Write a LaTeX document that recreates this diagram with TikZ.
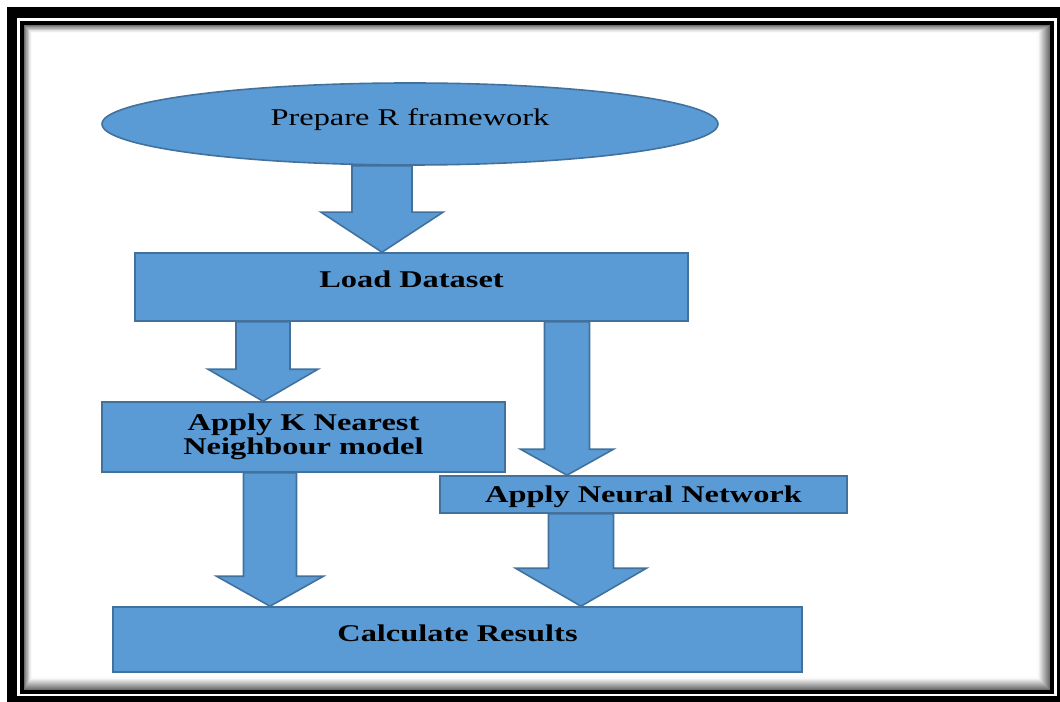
\documentclass[tikz,border=0pt]{standalone}
\usepackage{fontspec}
\setmainfont{Liberation Serif}[FakeStretch=1.35]
\usetikzlibrary{shapes.geometric,calc}

\definecolor{boxfill}{HTML}{5B9BD5}
\definecolor{boxline}{HTML}{41719C}

\tikzset{
  box/.style={draw=boxline, fill=boxfill, line width=1.2pt, inner sep=0pt, font=\fontsize{18}{18}\selectfont\bfseries},
  oval/.style={ellipse, draw=boxline, fill=boxfill, line width=1.2pt, inner sep=0pt, font=\fontsize{18}{18}\selectfont},
  barrow/.style={draw=boxline, fill=boxfill, line width=1.2pt, line join=miter},
}

% block arrow: from, to, shaft half width, head half width, head length (px)
\newcommand{\blockarrow}[5]{%
  \draw[barrow] let \p1=(#1), \p2=(#2) in
    (\x1-#3*0.75pt,\y1) -- (\x1-#3*0.75pt,\y2+#5*0.75pt) -- (\x1-#4*0.75pt,\y2+#5*0.75pt)
    -- (\x2,\y2) -- (\x1+#4*0.75pt,\y2+#5*0.75pt) -- (\x1+#3*0.75pt,\y2+#5*0.75pt)
    -- (\x1+#3*0.75pt,\y1) -- cycle;}

\begin{document}
\begin{tikzpicture}[x=0.75pt,y=-0.75pt]
\clip (0,0) rectangle (1060,702);

%Frame: outer band
\draw[line width=7.9pt] (12,12.5) rectangle (1062,701);
%Frame: inner line
\draw[line width=3pt] (22,23) rectangle (1052,691.5);
%Frame: shadow
\foreach \i [evaluate=\i as \c using int(62-5*\i)] in {1,...,12}
  \draw[line width=0.8pt, black!\c] (24+0.6*\i,25+0.6*\i) rectangle (1050-\i,690-\i);

%Shape: Ellipse
\node[oval, minimum width=462pt, minimum height=61.5pt, text height=12pt, text depth=9pt] (prep) at (410,124) {Prepare R framework};
%Shape: Rectangles
\node[box, minimum width=414.75pt, minimum height=51pt, text height=12pt, text depth=10.5pt] (load) at (411.5,287) {Load Dataset};
\node[box, minimum width=302.25pt, minimum height=52.5pt, align=center] (knn) at (303.5,437) {Apply K Nearest\\Neighbour model};
\node[box, minimum width=305.25pt, minimum height=27.75pt, text height=12pt, text depth=0pt] (nn) at (643.5,494.5) {Apply Neural Network};
\node[box, minimum width=516.75pt, minimum height=48.75pt, text height=12pt, text depth=9.75pt] (calc) at (457.5,639.5) {Calculate Results};

%Arrows
\coordinate (a1) at (382,0);
\coordinate (a2) at (263,0);
\coordinate (a3) at (567,0);
\coordinate (a4) at (270,0);
\coordinate (a5) at (581,0);
\blockarrow{prep.south -| a1}{load.north -| a1}{30}{61}{40}
\blockarrow{load.south -| a2}{knn.north -| a2}{27}{55}{32}
\blockarrow{load.south -| a3}{nn.north -| a3}{22.5}{46.5}{26}
\blockarrow{knn.south -| a4}{calc.north -| a4}{26.5}{53.5}{30}
\blockarrow{nn.south -| a5}{calc.north -| a5}{32.5}{65.5}{38}
\end{tikzpicture}
\end{document}
